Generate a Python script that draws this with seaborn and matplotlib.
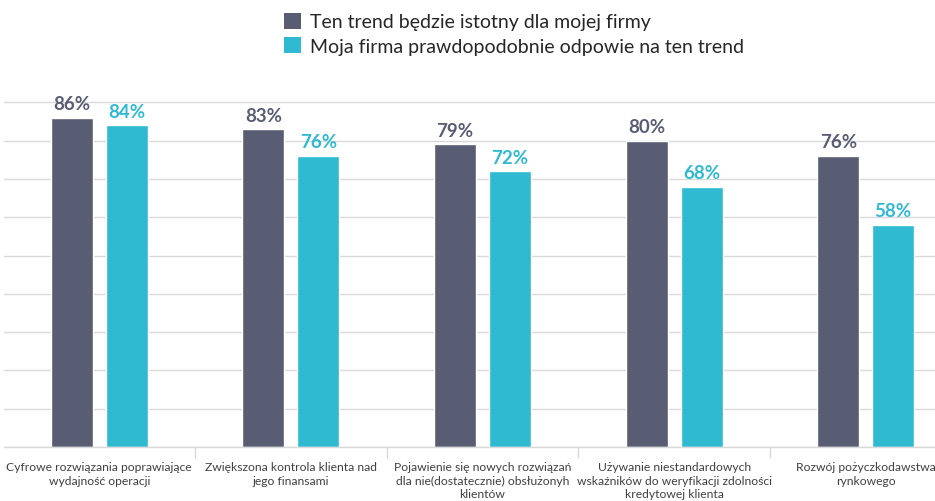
import matplotlib
matplotlib.use("Agg")
import matplotlib.pyplot as plt
import seaborn as sns
import pandas as pd
from matplotlib.patches import Patch
from matplotlib.ticker import FixedLocator

categories = [
    "Cyfrowe rozwiązania poprawiające\nwydajność operacji",
    "Zwiększona kontrola klienta nad\njego finansami",
    "Pojawienie się nowych rozwiązań\ndla nie(dostatecznie) obsłużonyh\nklientów",
    "Używanie niestandardowych\nwskaźników do weryfikacji zdolności\nkredytowej klienta",
    "Rozwój pożyczkodawstwa\nrynkowego",
]
series_names = [
    "Ten trend będzie istotny dla mojej firmy",
    "Moja firma prawdopodobnie odpowie na ten trend",
]
relevant = [86, 83, 79, 80, 76]
respond = [84, 76, 72, 68, 58]
colors = ["#585d73", "#2fbad2"]

df = pd.DataFrame({
    "cat": categories * 2,
    "series": [series_names[0]] * 5 + [series_names[1]] * 5,
    "val": relevant + respond,
})

sns.set_theme(style="white")
plt.rcParams["font.family"] = ["Lato", "DejaVu Sans"]

fig = plt.figure(figsize=(9.35, 5.02), dpi=100)
ax = fig.add_axes([3.5 / 935, (502 - 448) / 502, 958 / 935, (448 - 65) / 502])

sns.barplot(data=df, x="cat", y="val", hue="series", palette=colors,
            width=0.574, gap=0.237, ax=ax, legend=False, saturation=1)

ax.set_ylim(0, 100)
ax.set_xlim(-0.5, 4.5)
ax.set_yticks(range(0, 100, 10))
ax.yaxis.grid(True, color="#d9d9d9", linewidth=1)
ax.set_axisbelow(True)
ax.tick_params(axis="y", left=False, labelleft=False)
for s in ["left", "right", "top"]:
    ax.spines[s].set_visible(False)
ax.spines["bottom"].set_color("#d9d9d9")
ax.spines["bottom"].set_linewidth(1)
ax.set_xlabel("")
ax.set_ylabel("")

ax.xaxis.set_minor_locator(FixedLocator([0.5, 1.5, 2.5, 3.5]))
ax.tick_params(axis="x", which="major", length=0, pad=10, labelsize=8.7, labelcolor="#404040")
ax.tick_params(axis="x", which="minor", length=8, color="#d9d9d9", width=1, bottom=True)
for lbl in ax.get_xticklabels():
    lbl.set_linespacing(1.3)

for cont, col in zip(ax.containers, colors):
    ax.bar_label(cont, labels=[f"{int(v)}%" for v in cont.datavalues], padding=4,
                 color=col, fontsize=13.5, fontweight="bold")

handles = [Patch(facecolor=c, edgecolor="none") for c in colors]
fig.legend(handles, series_names, loc="upper left", bbox_to_anchor=(266 / 935, 1 + 4 / 502),
           frameon=False, fontsize=14, handlelength=0.9, handleheight=0.9,
           handletextpad=0.45, labelspacing=0.35, labelcolor="#262626")

fig.savefig("out.png", dpi=100)
